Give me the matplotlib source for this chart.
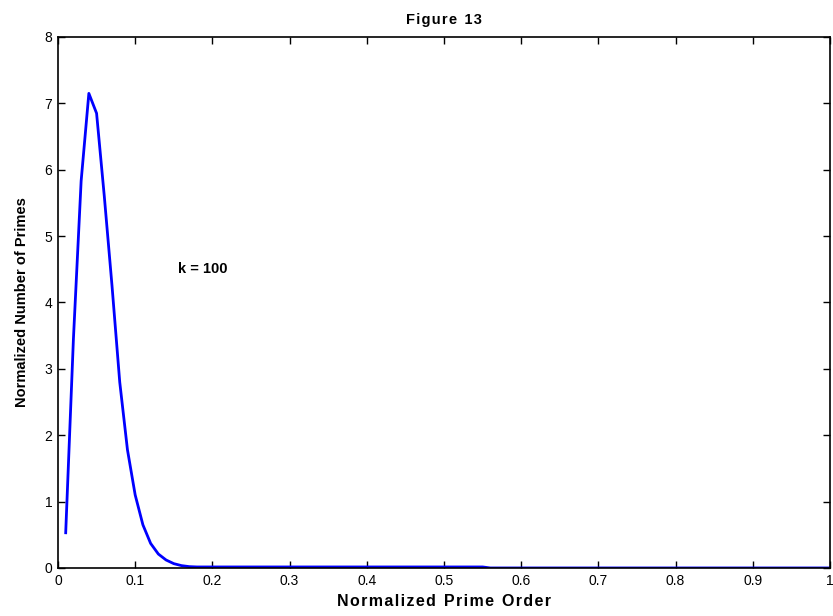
import matplotlib
matplotlib.use("Agg")
import matplotlib.pyplot as plt

plt.rcParams["font.family"] = ["Liberation Sans", "DejaVu Sans"]

# normalized prime order (x) and normalized number of primes (y), k = 100
prime_order = [0.01, 0.02, 0.03, 0.04, 0.05, 0.06, 0.07, 0.08, 0.09, 0.10,
               0.11, 0.12, 0.13, 0.14, 0.15, 0.16, 0.17, 0.18, 0.30, 0.40,
               0.50, 0.55, 0.56, 0.70, 0.80, 0.90, 1.00]
num_primes = [0.53, 3.45, 5.83, 7.15, 6.85, 5.60, 4.25, 2.80, 1.78, 1.10,
              0.65, 0.37, 0.21, 0.12, 0.065, 0.035, 0.02, 0.015, 0.015, 0.015,
              0.015, 0.015, 0.0, 0.0, 0.0, 0.0, 0.0]

x_ticks = [0, 0.1, 0.2, 0.3, 0.4, 0.5, 0.6, 0.7, 0.8, 0.9, 1]
x_tick_labels = ["0", "0.1", "0.2", "0.3", "0.4", "0.5", "0.6", "0.7", "0.8", "0.9", "1"]
y_ticks = [0, 1, 2, 3, 4, 5, 6, 7, 8]

fig = plt.figure(figsize=(8.33, 6.16), dpi=100)
ax = fig.add_axes([0.0696, 0.078, 0.9268, 0.862])

ax.plot(prime_order, num_primes, color="#0000ff", linewidth=2)

ax.set_xlim(0, 1)
ax.set_ylim(0, 8)
ax.set_xticks(x_ticks)
ax.set_xticklabels(x_tick_labels)
ax.set_yticks(y_ticks)
ax.tick_params(direction="in", top=True, right=True, length=5, width=1,
               labelsize=10, pad=4)
for s in ax.spines.values():
    s.set_linewidth(1.2)


def spaced(s):
    # MATLAB-style loose letter spacing
    return "\u200a".join(s).replace("\u200a \u200a", "\u2002")


ax.set_title(spaced("Figure 13"), fontsize=10.5, fontweight="bold", pad=9)
ax.set_xlabel(spaced("Normalized Prime Order"), fontsize=11.5, fontweight="bold", labelpad=5)
ax.set_ylabel("Normalized Number of Primes", fontsize=10.5, fontweight="bold", labelpad=11)
ax.text(0.155, 4.5, "k = 100", fontsize=10.5, fontweight="bold", va="center", ha="left")

fig.savefig("out.png", dpi=100)
